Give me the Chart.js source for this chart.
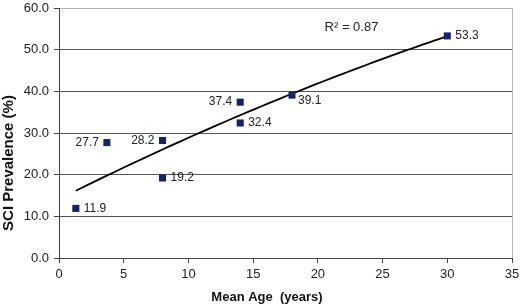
<!DOCTYPE html>
<html>
<head>
<meta charset="utf-8">
<script src="https://cdn.jsdelivr.net/npm/chart.js@4.4.1/dist/chart.umd.min.js"></script>
<style>
  html, body { margin: 0; padding: 0; background: #fff; }
  canvas { display: block; }
</style>
</head>
<body>
<canvas id="sciChart" width="520" height="305"></canvas>
<script>
// mean age (years) and SCI prevalence (%) per study
const meanAge = [1.3, 3.7, 8, 8, 14, 14, 18, 30];
const prevalence = [11.9, 27.7, 28.2, 19.2, 37.4, 32.4, 39.1, 53.3];
const labelSide = ['right', 'left', 'left', 'right', 'left', 'right', 'below', 'right'];
const rSquaredText = 'R\u00B2 = 0.87';

const font = "'Liberation Sans', Arial, sans-serif";

// 2nd order polynomial least squares fit (as the spreadsheet trendline)
function polyFit2(xs, ys) {
  let s = [0, 0, 0, 0, 0], t = [0, 0, 0];
  for (let i = 0; i < xs.length; i++) {
    let p = 1;
    for (let k = 0; k < 5; k++) { s[k] += p; if (k < 3) t[k] += p * ys[i]; p *= xs[i]; }
  }
  const m = [[s[0], s[1], s[2], t[0]], [s[1], s[2], s[3], t[1]], [s[2], s[3], s[4], t[2]]];
  for (let i = 0; i < 3; i++) {
    for (let j = i + 1; j < 3; j++) {
      const f = m[j][i] / m[i][i];
      for (let k = i; k < 4; k++) m[j][k] -= f * m[i][k];
    }
  }
  const c = [0, 0, 0];
  for (let i = 2; i >= 0; i--) {
    let v = m[i][3];
    for (let k = i + 1; k < 3; k++) v -= m[i][k] * c[k];
    c[i] = v / m[i][i];
  }
  return c;
}

const coef = polyFit2(meanAge, prevalence);
const xMin = Math.min(...meanAge), xMax = Math.max(...meanAge);
const trend = [];
for (let x = xMin; x <= xMax + 1e-9; x += (xMax - xMin) / 60) {
  trend.push({ x: x, y: coef[0] + coef[1] * x + coef[2] * x * x });
}

const points = meanAge.map((x, i) => ({ x: x, y: prevalence[i] }));

const decorations = {
  id: 'decorations',
  afterDatasetsDraw(chart) {
    const ctx = chart.ctx;
    const area = chart.chartArea;
    const xs = chart.scales.x, ys = chart.scales.y;
    ctx.save();
    // right border of plot
    ctx.strokeStyle = '#b4b4b4';
    ctx.lineWidth = 1;
    ctx.beginPath();
    ctx.moveTo(Math.round(area.right) + 0.5, area.top);
    ctx.lineTo(Math.round(area.right) + 0.5, area.bottom);
    ctx.stroke();

    // point value labels
    const meta = chart.getDatasetMeta(0);
    ctx.fillStyle = '#222';
    ctx.font = '12px ' + font;
    ctx.textBaseline = 'middle';
    meta.data.forEach((pt, i) => {
      const txt = prevalence[i].toFixed(1);
      if (labelSide[i] === 'left') {
        ctx.textAlign = 'right';
        ctx.fillText(txt, pt.x - 8, pt.y);
      } else if (labelSide[i] === 'below') {
        ctx.textAlign = 'left';
        ctx.fillText(txt, pt.x + 6, pt.y + 6);
      } else {
        ctx.textAlign = 'left';
        ctx.fillText(txt, pt.x + 8, pt.y);
      }
    });

    // R squared
    ctx.font = '13px ' + font;
    ctx.textAlign = 'center';
    ctx.fillText(rSquaredText, xs.getPixelForValue(22.6), ys.getPixelForValue(55.3));

    // axis titles
    ctx.font = 'bold 13px ' + font;
    ctx.textAlign = 'center';
    ctx.fillStyle = '#111';
    ctx.fillText('Mean Age  (years)', 267, 297);
    ctx.save();
    ctx.translate(9, 163);
    ctx.rotate(-Math.PI / 2);
    ctx.font = 'bold 15px ' + font;
    ctx.fillText('SCI Prevalence (%)', 0, 0);
    ctx.restore();
    ctx.restore();
  }
};

function noPad(s) {
  s.paddingTop = 0; s.paddingBottom = 0; s.paddingLeft = 0; s.paddingRight = 0;
}

new Chart(document.getElementById('sciChart').getContext('2d'), {
  type: 'scatter',
  data: {
    datasets: [{
      data: points,
      pointStyle: 'rect',
      pointRadius: 5,
      pointHoverRadius: 5,
      backgroundColor: '#13236e',
      borderColor: '#13236e',
      borderWidth: 0,
      showLine: false,
      order: 0
    }, {
      data: trend,
      showLine: true,
      borderColor: '#000',
      borderWidth: 1.8,
      pointRadius: 0,
      tension: 0,
      order: 1
    }]
  },
  options: {
    responsive: false,
    animation: false,
    devicePixelRatio: 1,
    layout: { padding: { top: 8, right: 8, left: 0, bottom: 0 } },
    plugins: {
      legend: { display: false },
      tooltip: { enabled: false }
    },
    scales: {
      x: {
        type: 'linear',
        min: 0,
        max: 35,
        afterFit: (s) => { s.height = 47; noPad(s); },
        ticks: { stepSize: 5, color: '#222', padding: 4, font: { family: font, size: 13 } },
        grid: { drawOnChartArea: false, tickLength: 5, color: '#444' },
        border: { color: '#444', width: 1 }
      },
      y: {
        min: 0,
        max: 60,
        afterFit: (s) => { s.width = 59; noPad(s); },
        ticks: {
          stepSize: 10,
          color: '#222',
          padding: 5,
          font: { family: font, size: 13 },
          callback: (v) => v.toFixed(1)
        },
        grid: {
          tickLength: 5,
          color: (c) => (c.tick && c.tick.value === 60 ? '#b4b4b4' : '#555'),
          tickColor: '#444'
        },
        border: { color: '#444', width: 1 }
      }
    }
  },
  plugins: [decorations]
});
</script>
</body>
</html>
